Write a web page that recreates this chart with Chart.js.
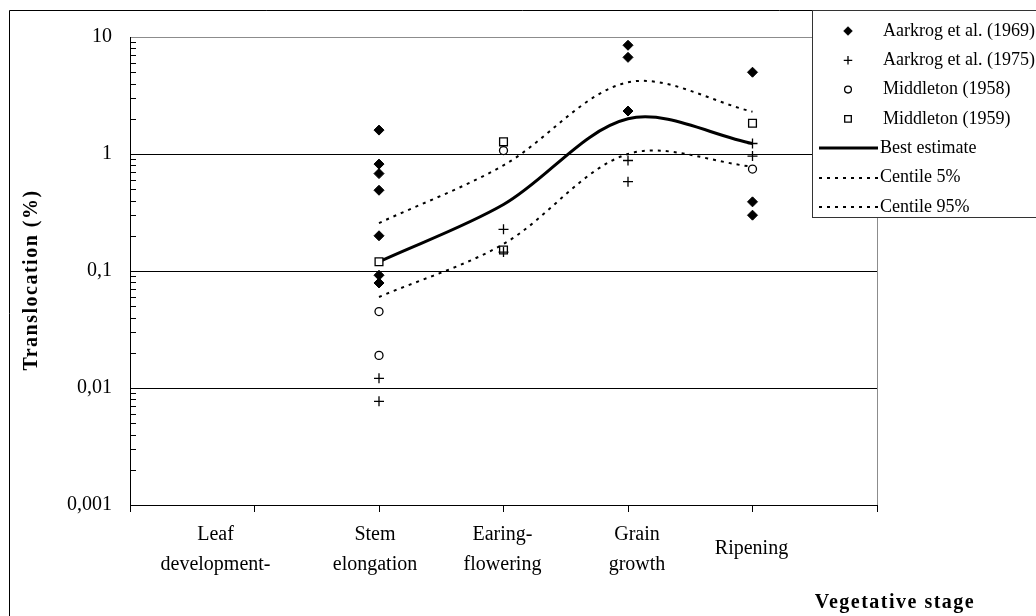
<!DOCTYPE html>
<html>
<head>
<meta charset="utf-8">
<script src="https://cdn.jsdelivr.net/npm/chart.js@4/dist/chart.umd.min.js"></script>
<style>
  html, body { margin: 0; padding: 0; background: #fff; }
  canvas { display: block; }
</style>
</head>
<body>
<canvas id="c" width="1036" height="616"></canvas>
<script>
// Vegetative stages along the x axis (category n sits at x = n)
const stages = ['Leaf development-', 'Stem elongation', 'Earing-flowering', 'Grain growth', 'Ripening'];
const stageLabelLines = [['Leaf', 'development-'], ['Stem', 'elongation'], ['Earing-', 'flowering'], ['Grain', 'growth'], ['Ripening']];

// Log axis decades and their labels (decimal comma)
const yTickValues = [0.001, 0.01, 0.1, 1, 10];
const yTickLabels = ['0,001', '0,01', '0,1', '1', '10'];

// Measured translocation (%) by stage
const aarkrog1969 = [
  ['Stem elongation', 1.6], ['Stem elongation', 0.82], ['Stem elongation', 0.68], ['Stem elongation', 0.49],
  ['Stem elongation', 0.2], ['Stem elongation', 0.092], ['Stem elongation', 0.079],
  ['Grain growth', 8.5], ['Grain growth', 6.7], ['Grain growth', 2.33],
  ['Ripening', 5.0], ['Ripening', 0.39], ['Ripening', 0.3]
];
const aarkrog1975 = [
  ['Stem elongation', 0.0121], ['Stem elongation', 0.0077],
  ['Earing-flowering', 0.227], ['Earing-flowering', 0.145],
  ['Grain growth', 0.88], ['Grain growth', 0.58],
  ['Ripening', 1.23], ['Ripening', 0.96]
];
const middleton1958 = [
  ['Stem elongation', 0.045], ['Stem elongation', 0.019],
  ['Earing-flowering', 1.07], ['Ripening', 0.744]
];
const middleton1959 = [
  ['Stem elongation', 0.12], ['Earing-flowering', 1.27],
  ['Earing-flowering', 0.151], ['Ripening', 1.83]
];

// Fitted curves
const curveStages = ['Stem elongation', 'Earing-flowering', 'Grain growth', 'Ripening'];
const bestEstimate = [0.12, 0.37, 2.0, 1.23];
const centile5 = [0.06, 0.17, 1.0, 0.78];
const centile95 = [0.257, 0.80, 4.1, 2.3];

const SERIF = '"Liberation Serif", "Times New Roman", serif';
Chart.defaults.font.family = SERIF;
Chart.defaults.color = '#000';

const stageX = name => stages.indexOf(name) + 1;
const toPoints = rows => rows.map(([s, v]) => ({ x: stageX(s), y: v }));
const toCurve = vals => vals.map((v, i) => ({ x: stageX(curveStages[i]), y: v }));

const datasets = [
  { label: 'Aarkrog et al. (1969)', data: toPoints(aarkrog1969), pointStyle: 'rectRot', pointRadius: 5,
    backgroundColor: '#000', borderColor: '#000', borderWidth: 1 },
  { label: 'Aarkrog et al. (1975)', data: toPoints(aarkrog1975), pointStyle: 'cross', pointRadius: 5,
    backgroundColor: '#000', borderColor: '#000', borderWidth: 1.3 },
  { label: 'Middleton (1958)', data: toPoints(middleton1958), pointStyle: 'circle', pointRadius: 4,
    backgroundColor: '#fff', borderColor: '#000', borderWidth: 1.3 },
  { label: 'Middleton (1959)', data: toPoints(middleton1959), pointStyle: 'rect', pointRadius: 5.5,
    backgroundColor: '#fff', borderColor: '#000', borderWidth: 1.3 },
  { label: 'Best estimate', data: toCurve(bestEstimate), showLine: true, pointRadius: 0,
    borderColor: '#000', backgroundColor: '#000', borderWidth: 3, tension: 0.33 },
  { label: 'Centile 5%', data: toCurve(centile5), showLine: true, pointRadius: 0,
    borderColor: '#000', backgroundColor: '#000', borderWidth: 2, borderDash: [3, 5], tension: 0.33 },
  { label: 'Centile 95%', data: toCurve(centile95), showLine: true, pointRadius: 0,
    borderColor: '#000', backgroundColor: '#000', borderWidth: 2, borderDash: [3, 5], tension: 0.33 }
];

// Horizontal nudges for the wrapped stage labels
const labelShift = [-39, -4, -1, 9, -1];

const decor = {
  id: 'decor',
  afterDraw(chart) {
    const ctx = chart.ctx;
    const xs = chart.scales.x, ys = chart.scales.y;
    const area = chart.chartArea;
    ctx.save();

    // right edge of the plot area
    ctx.strokeStyle = '#8c8c8c';
    ctx.lineWidth = 1;
    ctx.beginPath();
    ctx.moveTo(Math.round(area.right) + 0.5, area.top);
    ctx.lineTo(Math.round(area.right) + 0.5, area.bottom);
    ctx.stroke();

    // minor ticks on the log axis, pointing inward
    ctx.strokeStyle = '#000';
    ctx.beginPath();
    for (let e = -3; e <= 0; e++) {
      for (let k = 2; k <= 9; k++) {
        const y = Math.round(ys.getPixelForValue(k * Math.pow(10, e))) + 0.5;
        ctx.moveTo(area.left, y);
        ctx.lineTo(area.left + 6, y);
      }
    }
    ctx.stroke();

    // stage labels under the x axis
    ctx.fillStyle = '#000';
    ctx.font = '20px ' + SERIF;
    ctx.textAlign = 'center';
    ctx.textBaseline = 'alphabetic';
    stageLabelLines.forEach((lines, i) => {
      const cx = xs.getPixelForValue(i + 1) + labelShift[i];
      if (lines.length === 2) {
        ctx.fillText(lines[0], cx, area.bottom + 35);
        ctx.fillText(lines[1], cx, area.bottom + 65);
      } else {
        ctx.fillText(lines[0], cx, area.bottom + 49);
      }
    });

    // axis titles
    ctx.font = 'bold 20px ' + SERIF;
    if ('letterSpacing' in ctx) ctx.letterSpacing = '1.5px';
    ctx.textAlign = 'center';
    ctx.fillText('Vegetative stage', 895, 608);
    ctx.save();
    ctx.translate(32, 280);
    ctx.rotate(-Math.PI / 2);
    ctx.textBaseline = 'middle';
    ctx.fillText('Translocation (%)', 0, 0);
    ctx.restore();
    if ('letterSpacing' in ctx) ctx.letterSpacing = '0px';

    // outer frame
    ctx.strokeStyle = '#000';
    ctx.lineWidth = 1;
    ctx.beginPath();
    ctx.moveTo(9.5, chart.height);
    ctx.lineTo(9.5, 10.5);
    ctx.lineTo(chart.width, 10.5);
    ctx.stroke();

    // legend box
    const lx = 812.5, ly = 10.5, lb = 217.5;
    ctx.fillStyle = '#fff';
    ctx.fillRect(lx, ly, chart.width - lx, lb - ly);
    ctx.strokeStyle = '#333';
    ctx.strokeRect(lx, ly, chart.width - lx + 5, lb - ly);

    chart.data.datasets.forEach((ds, i) => {
      const cy = 31 + i * 29.3;
      ctx.save();
      if (ds.showLine) {
        ctx.strokeStyle = ds.borderColor;
        ctx.lineWidth = ds.borderWidth;
        ctx.setLineDash(ds.borderDash || []);
        ctx.beginPath();
        ctx.moveTo(819, Math.round(cy));
        ctx.lineTo(878, Math.round(cy));
        ctx.stroke();
      } else {
        ctx.fillStyle = ds.backgroundColor;
        ctx.strokeStyle = ds.borderColor;
        ctx.lineWidth = ds.borderWidth;
        Chart.helpers.drawPoint(ctx, {
          pointStyle: ds.pointStyle, radius: ds.pointRadius * 0.85,
          borderWidth: ds.borderWidth, rotation: 0
        }, 848, cy);
      }
      ctx.restore();
      ctx.fillStyle = '#000';
      ctx.font = '18px ' + SERIF;
      ctx.textAlign = 'left';
      ctx.textBaseline = 'middle';
      ctx.fillText(ds.label, ds.showLine ? 880 : 883, cy);
    });

    ctx.restore();
  }
};

new Chart(document.getElementById('c'), {
  type: 'scatter',
  data: { datasets },
  options: {
    responsive: false,
    animation: false,
    devicePixelRatio: 1,
    events: [],
    layout: { padding: { top: 37, right: 159, bottom: 0, left: 0 } },
    plugins: { legend: { display: false }, tooltip: { enabled: false } },
    scales: {
      x: {
        type: 'linear', min: 0, max: 6,
        ticks: { stepSize: 1, callback: () => '', autoSkip: false },
        grid: { drawOnChartArea: false, drawTicks: true, tickLength: 7, tickColor: '#000', color: '#000' },
        border: { color: '#000', width: 1 },
        afterFit: s => { s.height = 111; }
      },
      y: {
        type: 'logarithmic', min: 0.001, max: 10,
        afterBuildTicks: s => { s.ticks = yTickValues.map(v => ({ value: v })); },
        ticks: {
          autoSkip: false, padding: 18, color: '#000',
          font: { family: SERIF, size: 20 },
          callback: (v, i) => yTickLabels[i]
        },
        grid: {
          drawTicks: false, lineWidth: 1,
          color: c => (c.tick && c.tick.value === 10) ? '#8c8c8c' : '#000'
        },
        border: { color: '#000', width: 1 },
        afterFit: s => { s.width = 130; }
      }
    }
  },
  plugins: [decor]
});
</script>
</body>
</html>
